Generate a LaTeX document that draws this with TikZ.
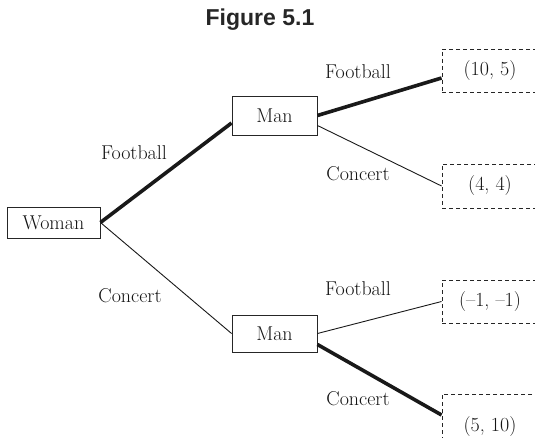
\documentclass[tikz,border=0pt]{standalone}
\usepackage{fontspec}
\newfontfamily\titlefont{Liberation Sans}
\usetikzlibrary{calc}
\begin{document}
\begin{tikzpicture}[x=1pt,y=-1pt,
  lbl/.style={font=\fontsize{20}{24}\selectfont, text=black!92, inner sep=0pt},
  player/.style={draw=black!85, line width=0.9pt, inner sep=0pt, lbl},
  payoff/.style={draw=black!85, line width=0.9pt, dash pattern=on 4pt off 3pt, inner sep=0pt, minimum width=96pt, lbl},
  thin/.style={draw=black!90, line width=0.9pt},
  thick/.style={draw=black!90, line width=3.6pt}]
\useasboundingbox (0,0) rectangle (535,438);

% title
\node[font=\titlefont\bfseries\fontsize{23}{27}\selectfont, text=black!85] (title) at (260,20) {Figure 5.1};

% decision nodes
\node[player, minimum width=93pt, minimum height=31pt] (woman) at (53.5,222.5) {Woman};
\node[player, minimum width=85pt, minimum height=39pt] (man1) at (274.5,115.5) {Man};
\node[player, minimum width=85pt, minimum height=37pt] (man2) at (274.5,333.5) {Man};

% payoff boxes
\node[payoff, minimum height=43pt] (p1) at (490,70.5) {(10, 5)};
\node[payoff, minimum height=44pt] (p2) at (490,186) {(4, 4)};
\node[payoff, minimum height=43pt] (p3) at (490,301.5) {(–1, –1)};
\node[payoff, minimum height=66pt] (p4) at (490,427) {(5, 10)};

% branches of the woman
\draw[thick] (woman.east) -- ($(man1.west)+(0,7.5)$);
\draw[thin] (woman.east) -- (man2.west);

% branches of the man
\draw[thick] (man1.east) -- ($(p1.west)+(0,7.5)$);
\draw[thin] ($(man1.east)+(0,10)$) -- (p2.west);
\draw[thin] (man2.east) -- (p3.west);
\draw[thick] ($(man2.east)+(0,11)$) -- ($(p4.west)+(0,-12)$);

% action labels
\node[lbl] (f1) at (134,153) {Football};
\node[lbl] (c1) at (130,296) {Concert};
\node[lbl] (f2) at (358,72) {Football};
\node[lbl] (c2) at (358,174) {Concert};
\node[lbl] (f3) at (358,289) {Football};
\node[lbl] (c3) at (358,399) {Concert};
\end{tikzpicture}
\end{document}
